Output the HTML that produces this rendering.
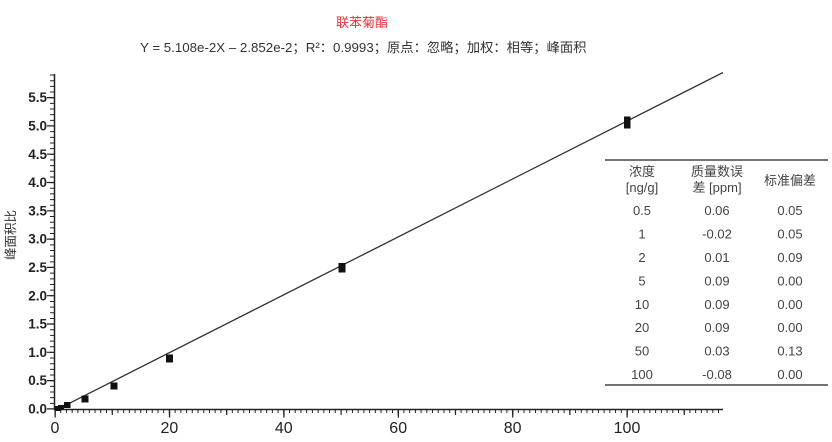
<!DOCTYPE html>
<html><head><meta charset="utf-8"><style>
html,body{margin:0;padding:0;background:#fff;}
svg{display:block;}
text{font-family:"Liberation Sans","Noto Sans CJK SC",sans-serif;}
</style></head><body>
<svg width="832" height="442" viewBox="0 0 832 442" xmlns="http://www.w3.org/2000/svg">
<rect width="832" height="442" fill="#fff"/>
<text x="362" y="27" text-anchor="middle" font-size="13" fill="#e8303a">联苯菊酯</text>
<text x="140" y="52" font-size="13.3" fill="#333">Y = 5.108e-2X – 2.852e-2；R²：0.9993；原点：忽略；加权：相等；峰面积</text>

<!-- Y axis -->
<line x1="54.5" y1="74" x2="54.5" y2="410" stroke="#222" stroke-width="1.5"/>
<line x1="52" y1="409.5" x2="52" y2="74" stroke="#222" stroke-width="4" stroke-dasharray="1 4.66"/>
<line x1="50.5" y1="409.5" x2="50.5" y2="90" stroke="#222" stroke-width="7" stroke-dasharray="1.2 27.1"/>
<g font-size="13.5" font-weight="bold" fill="#222" text-anchor="end">
<text x="47" y="413.5">0.0</text>
<text x="47" y="385.2">0.5</text>
<text x="47" y="356.9">1.0</text>
<text x="47" y="328.6">1.5</text>
<text x="47" y="300.3">2.0</text>
<text x="47" y="272">2.5</text>
<text x="47" y="243.7">3.0</text>
<text x="47" y="215.4">3.5</text>
<text x="47" y="187.1">4.0</text>
<text x="47" y="158.8">4.5</text>
<text x="47" y="130.5">5.0</text>
<text x="47" y="102.2">5.5</text>
</g>
<text transform="translate(15,235) rotate(-90)" text-anchor="middle" font-size="12.5" fill="#333">峰面积比</text>

<!-- X axis -->
<line x1="54" y1="409.5" x2="723" y2="409.5" stroke="#222" stroke-width="1.5"/>
<line x1="54.5" y1="411.5" x2="723" y2="411.5" stroke="#222" stroke-width="3" stroke-dasharray="1 4.72"/>
<line x1="54.5" y1="412.5" x2="723" y2="412.5" stroke="#222" stroke-width="5" stroke-dasharray="1.2 56"/>
<line x1="54.5" y1="413.5" x2="723" y2="413.5" stroke="#222" stroke-width="8" stroke-dasharray="1.3 113.1"/>
<g font-size="16" fill="#222" text-anchor="middle">
<text x="55" y="433">0</text>
<text x="169.4" y="433">20</text>
<text x="283.8" y="433">40</text>
<text x="398.2" y="433">60</text>
<text x="512.6" y="433">80</text>
<text x="627" y="433">100</text>
</g>

<!-- regression line -->
<line x1="55" y1="410.6" x2="723" y2="72.5" stroke="#333" stroke-width="1.3"/>

<!-- data points -->
<g fill="#111">
<rect x="55" y="406" width="6" height="5"/>
<rect x="58" y="405" width="6" height="5"/>
<rect x="64" y="402" width="6.5" height="6"/>
<rect x="81.5" y="395.5" width="7" height="7"/>
<rect x="110.5" y="382.5" width="7" height="7"/>
<rect x="166" y="354.5" width="7" height="8"/>
<rect x="338.5" y="263" width="7" height="9.5"/>
<rect x="624" y="116.5" width="6.5" height="12"/>
</g>

<!-- table -->
<line x1="605" y1="160" x2="828" y2="160" stroke="#222" stroke-width="1.2"/>
<line x1="605" y1="385" x2="828" y2="385" stroke="#222" stroke-width="1.2"/>
<g font-size="13" fill="#444" text-anchor="middle">
<text x="642" y="176">浓度</text>
<text x="642" y="192">[ng/g]</text>
<text x="717" y="176">质量数误</text>
<text x="717" y="192">差 [ppm]</text>
<text x="790" y="185">标准偏差</text>

<text x="642" y="215">0.5</text><text x="717" y="215">0.06</text><text x="790" y="215">0.05</text>
<text x="642" y="238.5">1</text><text x="717" y="238.5">-0.02</text><text x="790" y="238.5">0.05</text>
<text x="642" y="262">2</text><text x="717" y="262">0.01</text><text x="790" y="262">0.09</text>
<text x="642" y="285.5">5</text><text x="717" y="285.5">0.09</text><text x="790" y="285.5">0.00</text>
<text x="642" y="309">10</text><text x="717" y="309">0.09</text><text x="790" y="309">0.00</text>
<text x="642" y="332">20</text><text x="717" y="332">0.09</text><text x="790" y="332">0.00</text>
<text x="642" y="355.5">50</text><text x="717" y="355.5">0.03</text><text x="790" y="355.5">0.13</text>
<text x="642" y="379">100</text><text x="717" y="379">-0.08</text><text x="790" y="379">0.00</text>
</g>
</svg>
</body></html>
